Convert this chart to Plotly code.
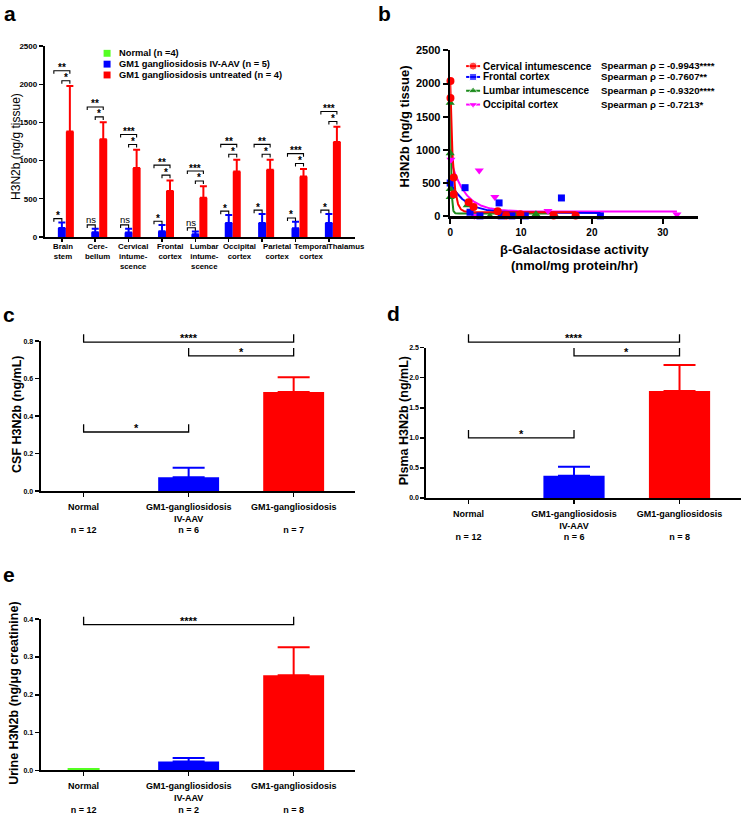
import numpy as np
import plotly.graph_objects as go

# ---------------- data ----------------
# panel a
regions = ["Brain<br>stem", "Cere-<br>bellum", "Cervical<br>intume-<br>scence", "Frontal<br>cortex",
           "Lumbar<br>intume-<br>scence", "Occipital<br>cortex", "Parietal<br>cortex", "Temporal<br>cortex",
           "Thalamus"]
normal_a = [0, 0, 0, 0, 0, 0, 0, 0, 0]
aav_a = [116, 60, 59, 73, 35, 181, 181, 112, 181]
aav_a_err = [74, 47, 48, 82, 35, 107, 120, 86, 120]
untr_a = [1382, 1279, 904, 603, 513, 857, 879, 792, 1244]
untr_a_err = [595, 224, 237, 137, 150, 155, 133, 99, 199]
sig_n_aav = ["*", "ns", "ns", "*", "ns", "*", "*", "*", "*"]
sig_n_untr = ["**", "**", "***", "**", "***", "**", "**", "***", "***"]
sig_aav_untr = ["*", "*", "*", "*", "*", "*", "*", "*", "*"]
legend_a = ["Normal (n =4)", "GM1 gangliosidosis IV-AAV (n = 5)", "GM1 gangliosidosis untreated (n = 4)"]

# panel b
cerv_x = [0.04, 0.04, 0.5, 0.5, 2.6, 3.3, 6.7, 7.9, 9.9, 14.6, 17.7]
cerv_y = [2039, 1782, 584, 331, 212, 138, 74, 9, 30, 9, 9]
front_x = [0.0, 2.1, 2.8, 4.2, 6.9, 7.2, 8.7, 10.6, 15.7, 21.2]
front_y = [500, 430, 60, 5, 200, 5, 5, 5, 275, 5]
lumb_x = [0.0, 0.0, 0.0, 0.0, 2.4, 5.6, 9.2, 12.1, 14.9]
lumb_y = [1710, 950, 410, 290, 165, 0, 0, 30, 0]
occ_x = [0.1, 3.4, 4.1, 6.3, 13.8, 32.0]
occ_y = [850, 5, 690, 290, 80, 25]
# one-phase decay fit parameters: plateau, span, rate
cerv_fit = [60, 1980, 2.5]
front_fit = [50, 450, 0.45]
lumb_fit = [40, 1670, 8.0]
occ_fit = [70, 800, 0.5]
tissue_names = ["Cervical intumescence", "Frontal cortex", "Lumbar intumescence", "Occipital cortex"]
spearman = ["Spearman ρ = -0.9943****", "Spearman ρ = -0.7607**", "Spearman ρ = -0.9320****",
            "Spearman ρ = -0.7213*"]

# panels c-e
groups = ["Normal", "GM1-gangliosidosis<br>IV-AAV", "GM1-gangliosidosis"]
csf_mean = [0.0, 0.074, 0.528]
csf_err = [0.0, 0.050, 0.079]
csf_n = [12, 6, 7]
csf_sig = ["****", "*", "*"]
plasma_mean = [0.0, 0.37, 1.78]
plasma_err = [0.0, 0.15, 0.43]
plasma_n = [12, 6, 8]
plasma_sig = ["****", "*", "*"]
urine_mean = [0.0005, 0.0235, 0.252]
urine_err = [0.0032, 0.0095, 0.074]
urine_n = [12, 2, 8]
urine_sig = ["****"]

# ---------------- style ----------------
W, H = 745, 825
GREEN, BLUE, RED, MAG, DGREEN = "#55ff22", "#0000ff", "#ff0000", "#ff00ff", "#1a8a1a"
FONT = "Liberation Sans, Arial, sans-serif"


def px(x):
    return x / W


def py(y):
    return 1 - y / H


fig = go.Figure()
shapes = []
ann = []


def text(x, y, s, size=9, bold=True, xanchor="center", yanchor="middle", angle=0, xref="paper", yref="paper",
         yshift=0):
    ann.append(dict(x=x, y=y, xref=xref, yref=yref, text=s, showarrow=False, xanchor=xanchor, yanchor=yanchor,
                    textangle=angle, yshift=yshift,
                    font=dict(size=size, family=FONT, color="black", weight="bold" if bold else "normal")))


def bracket(x1, x2, y, tick, xref, yref, lw=1.3):
    shapes.append(dict(type="path", xref=xref, yref=yref,
                       path=f"M {x1},{y - tick} L {x1},{y} L {x2},{y} L {x2},{y - tick}",
                       line=dict(color="black", width=lw)))


# ---------------- panel a ----------------
BW = 0.24
xa = list(range(len(regions)))
for vals, errs, col, off in [(normal_a, None, GREEN, -1.5 * BW), (aav_a, aav_a_err, BLUE, -0.5 * BW),
                             (untr_a, untr_a_err, RED, 0.5 * BW)]:
    kw = {}
    if errs is not None:
        kw["error_y"] = dict(type="data", symmetric=False, array=errs, arrayminus=[0] * len(errs), color=col,
                             thickness=2, width=3.5)
    fig.add_trace(go.Bar(x=xa, y=vals, width=BW, offset=off, marker=dict(color=col, line=dict(width=0)),
                         xaxis="x", yaxis="y", showlegend=False, **kw))

for i in xa:
    bt = aav_a[i] + aav_a_err[i]
    rt = untr_a[i] + untr_a_err[i]
    ys = bt + 50
    yi = rt + 70
    yo = yi + 130
    bracket(i - BW, i, ys, 40, "x", "y", 1.1)
    bracket(i, i + BW, yi, 40, "x", "y", 1.1)
    bracket(i - BW, i + BW, yo, 40, "x", "y", 1.1)
    small = sig_n_aav[i]
    text(i - BW / 2, ys, small, size=9.5 if small == "ns" else 10, bold=small != "ns", xref="x", yref="y",
         yshift=5 if small == "ns" else 3)
    text(i + BW / 2, yi, sig_aav_untr[i], size=10, xref="x", yref="y", yshift=3)
    text(i, yo, sig_n_untr[i], size=10, xref="x", yref="y", yshift=3)

label_pos = [0.03, 1.07, 2.12, 3.25, 4.27, 5.31, 6.45, 7.49, 8.54]
for lp, lab in zip(label_pos, regions):
    text(lp, py(237), lab, size=7.8, xref="x", yanchor="top")

# legend a
for k, (lab, col) in enumerate(zip(legend_a, [GREEN, BLUE, RED])):
    yy = 48 + 11 * k
    shapes.append(dict(type="rect", xref="paper", yref="paper", x0=px(101), x1=px(108), y0=py(yy + 3.5),
                       y1=py(yy - 3.5), fillcolor=col, line=dict(width=0)))
    text(px(114), py(yy), lab, size=9.3, xanchor="left")

text(px(13), py(142), "H3N2b (ng/g tissue)", size=12, bold=False, angle=-90)

# ---------------- panel b ----------------
series_b = [(cerv_x, cerv_y, cerv_fit, RED, "circle", 8),
            (front_x, front_y, front_fit, BLUE, "square", 7),
            (lumb_x, lumb_y, lumb_fit, DGREEN, "triangle-up", 8),
            (occ_x, occ_y, occ_fit, MAG, "triangle-down", 8)]
for xs, ys, fit, col, sym, sz in [series_b[3], series_b[1], series_b[2], series_b[0]]:
    xx = np.linspace(0, max(xs), 400)
    yy = fit[0] + fit[1] * np.exp(-fit[2] * xx)
    fig.add_trace(go.Scatter(x=xx, y=yy, mode="lines", line=dict(color=col, width=2), xaxis="x2", yaxis="y2",
                             showlegend=False, cliponaxis=False))
for xs, ys, fit, col, sym, sz in [series_b[3], series_b[2], series_b[1], series_b[0]]:
    fig.add_trace(go.Scatter(x=xs, y=ys, mode="markers", marker=dict(color=col, symbol=sym, size=sz),
                             xaxis="x2", yaxis="y2", showlegend=False, cliponaxis=False))

legend_rows = [61, 72, 86, 100]
for (xs, ys, fit, col, sym, sz), name, sp, ry in zip(series_b, tissue_names, spearman, legend_rows):
    fig.add_trace(go.Scatter(x=[465, 472, 479], y=[ry, ry, ry], mode="lines+markers",
                             line=dict(color=col, width=2), marker=dict(color=col, symbol=sym, size=[0, sz, 0]),
                             xaxis="x6", yaxis="y6", showlegend=False))
    text(px(480), py(ry), name, size=10, xanchor="left")
    text(px(598), py(ry - 0.5), sp, size=9.6, xanchor="left")

text(px(403), py(122), "H3N2b (ng/g tissue)", size=13, angle=-90)
text(px(574), py(247), "β-Galactosidase activity", size=13)
text(px(574), py(263), "(nmol/mg protein/hr)", size=13)


# ---------------- panels c-e ----------------
def ticktexts(labels, ns):
    out = []
    for lab, n in zip(labels, ns):
        if "<br>" not in lab:
            lab = lab + "<br> "
        out.append(f"{lab}<br>n = {n}")
    return out


colors3 = [GREEN, BLUE, RED]
for mean, err, ax in [(csf_mean, csf_err, "3"), (plasma_mean, plasma_err, "4"), (urine_mean, urine_err, "5")]:
    for j in range(3):
        fig.add_trace(go.Bar(x=[j], y=[mean[j]], width=0.58, marker=dict(color=colors3[j], line=dict(width=0)),
                             error_y=dict(type="data", symmetric=False, array=[err[j]], arrayminus=[0],
                                          color=colors3[j], thickness=2, width=16, visible=err[j] > 0),
                             xaxis="x" + ax, yaxis="y" + ax, showlegend=False))

# significance brackets (pixel heights of the bracket bars)
pairs3 = [(0, 2), (1, 2), (0, 1)]
for ax, sigs, levels in [("x3", csf_sig, [341, 355, 432.3]), ("x4", plasma_sig, [341, 355, 438.3]),
                         ("x5", urine_sig, [627.7])]:
    for (a, b), s, lv in zip(pairs3, sigs, levels):
        bracket(a, b, py(lv), -8 / H, ax, "paper")
        text((a + b) / 2, py(lv), s, size=11, xref=ax, yshift=4)

text(px(14), py(414), "CSF H3N2b (ng/mL)", size=12.5, angle=-90)
text(px(402), py(421), "Plsma H3N2b (ng/mL)", size=12.5, angle=-90)
text(px(11), py(697), "Urine H3N2b (ng/μg creatinine)", size=12.5, angle=-90)

# panel letters
for lx, ly, L in [(7, 8, "a"), (383, 8, "b"), (6, 313, "c"), (392, 312, "d"), (6, 577, "e")]:
    text(px(lx), py(ly), L, size=21)


# ---------------- axes ----------------
def axis_common(**kw):
    d = dict(showline=True, linecolor="black", linewidth=2, ticks="outside", tickcolor="black", tickwidth=1.5,
             ticklen=4, showgrid=False, zeroline=False, fixedrange=True,
             tickfont=dict(family=FONT, size=8, color="black", weight="bold"))
    d.update(kw)
    return d


TF9 = dict(family=FONT, size=9, color="black", weight="bold")
TF7 = dict(family=FONT, size=7, color="black", weight="bold")
layout_axes = dict(
    xaxis=axis_common(domain=[px(42), px(353)], range=[-0.51, 8.77], tickvals=xa, ticktext=[""] * 9,
                      anchor="y", ticklen=3),
    yaxis=axis_common(domain=[py(234.3), py(40.7)], range=[0, 2500], dtick=500, anchor="x"),
    xaxis2=axis_common(domain=[px(449), px(698)], range=[0, 35], tickvals=[0, 10, 20, 30], anchor="y2",
                       linewidth=2.5, tickwidth=2, ticklen=5,
                       tickfont=dict(family=FONT, size=10, color="black", weight="bold")),
    yaxis2=axis_common(domain=[py(213.3), py(45)], range=[0, 2500], dtick=500, anchor="x2", linewidth=2.5,
                       tickwidth=2, ticklen=5, tickfont=dict(family=FONT, size=11, color="black", weight="bold")),
    xaxis3=axis_common(domain=[px(37.7), px(353)], range=[-0.41, 2.58], tickvals=[0, 1, 2],
                       ticktext=ticktexts(groups, csf_n), anchor="y3", ticklabelstandoff=2, tickfont=TF9),
    yaxis3=axis_common(domain=[py(492.3), py(340)], range=[0, 0.8], dtick=0.2, tickformat=".1f", anchor="x3",
                       tickfont=TF7),
    xaxis4=axis_common(domain=[px(425), px(740.7)], range=[-0.40, 2.58], tickvals=[0, 1, 2],
                       ticktext=ticktexts(groups, plasma_n), anchor="y4", ticklabelstandoff=2, tickfont=TF9),
    yaxis4=axis_common(domain=[py(499.3), py(346.7)], range=[0, 2.5], dtick=0.5, tickformat=".1f", anchor="x4",
                       tickfont=TF7),
    xaxis5=axis_common(domain=[px(37.7), px(353)], range=[-0.41, 2.58], tickvals=[0, 1, 2],
                       ticktext=ticktexts(groups, urine_n), anchor="y5", ticklabelstandoff=2, tickfont=TF9),
    yaxis5=axis_common(domain=[py(775.7), py(622.3)], range=[0, 0.4], dtick=0.1, tickformat=".1f", anchor="x5",
                       tickfont=TF7),
    xaxis6=dict(domain=[0, 1], range=[0, W], visible=False, fixedrange=True, anchor="y6"),
    yaxis6=dict(domain=[0, 1], range=[H, 0], visible=False, fixedrange=True, anchor="x6"),
)

fig.update_layout(
    width=W, height=H, margin=dict(l=0, r=0, t=0, b=0, pad=0),
    paper_bgcolor="white", plot_bgcolor="rgba(0,0,0,0)",
    font=dict(family=FONT, color="black"),
    showlegend=False, barmode="overlay", hovermode=False,
    shapes=shapes, annotations=ann,
    **layout_axes,
)

POST = ("document.documentElement.style.margin='0';document.documentElement.style.padding='0';"
        "document.documentElement.style.overflow='hidden';"
        "document.body.style.margin='0';document.body.style.padding='0';document.body.style.overflow='hidden';"
        "var gd=document.getElementById('{plot_id}');gd.style.position='absolute';"
        "gd.style.left='0px';gd.style.top='0px';")
fig.write_html("out.html", config={"displayModeBar": False, "staticPlot": True}, post_script=POST)
